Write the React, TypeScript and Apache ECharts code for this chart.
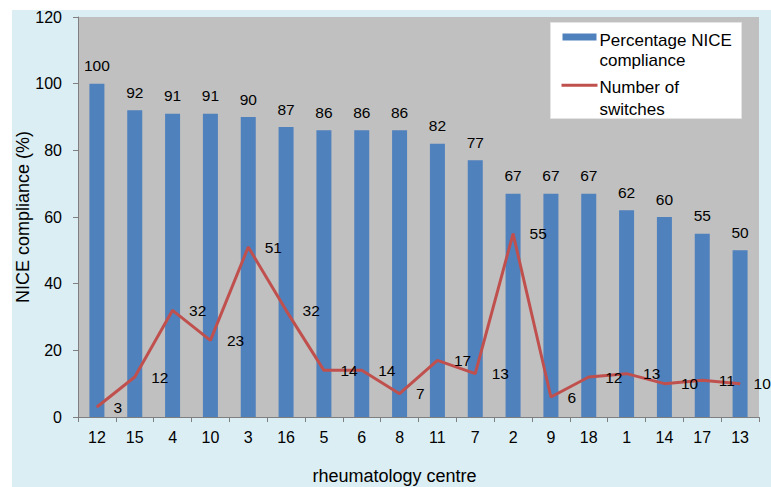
import React, { useEffect, useRef } from "react";
import * as echarts from "echarts";

// Rheumatology centres, ordered by NICE compliance
const centres = ["12", "15", "4", "10", "3", "16", "5", "6", "8", "11", "7", "2", "9", "18", "1", "14", "17", "13"];
// Percentage NICE compliance per centre
const compliance = [100, 92, 91, 91, 90, 87, 86, 86, 86, 82, 77, 67, 67, 67, 62, 60, 55, 50];
// Number of switches per centre
const switches = [3, 12, 32, 23, 51, 32, 14, 14, 7, 17, 13, 55, 6, 12, 13, 10, 11, 10];

const barName = "Percentage NICE compliance";
const lineName = "Number of switches";

const FONT = "'Liberation Sans', Arial, sans-serif";
const BLUE = "#4f81bd";
const RED = "#c0504d";

const legendText = (text: string, y: number) => ({
  type: "text",
  x: 49,
  y,
  style: { text, fontSize: 17, fontFamily: FONT, fill: "#000", verticalAlign: "middle" },
});

export default function App() {
  const ref = useRef<HTMLDivElement>(null);

  useEffect(() => {
    if (!ref.current) return;
    const chart = echarts.init(ref.current, undefined, { renderer: "svg" });
    const lastIdx = switches.length - 1;
    chart.setOption({
      animation: false,
      textStyle: { fontFamily: FONT, color: "#000" },
      grid: {
        left: 66,
        top: 7,
        right: 12,
        bottom: 70,
        containLabel: false,
        outerBoundsMode: "none",
        show: true,
        backgroundColor: "#c0c0c0",
        borderWidth: 0,
      },
      xAxis: {
        type: "category",
        data: centres,
        name: "rheumatology centre",
        nameLocation: "middle",
        nameGap: 50,
        nameMoveOverlap: false,
        nameTextStyle: { fontSize: 18, color: "#000", fontFamily: FONT, padding: [0, 48, 0, 0] },
        axisLine: { lineStyle: { color: "#7f7f7f", width: 1 } },
        axisTick: { show: true, alignWithLabel: false, length: 5, lineStyle: { color: "#7f7f7f" } },
        axisLabel: { fontSize: 16, color: "#000", margin: 12, fontFamily: FONT, interval: 0 },
        splitLine: { show: false },
      },
      yAxis: {
        type: "value",
        min: 0,
        max: 120,
        interval: 20,
        name: "NICE compliance (%)",
        nameLocation: "middle",
        nameGap: 46,
        nameMoveOverlap: false,
        nameTextStyle: { fontSize: 18, color: "#000", fontFamily: FONT },
        axisLine: { show: true, lineStyle: { color: "#7f7f7f", width: 1 } },
        axisTick: { show: true, length: 5, lineStyle: { color: "#7f7f7f" } },
        axisLabel: { fontSize: 16, color: "#000", margin: 16, fontFamily: FONT },
        splitLine: { show: false },
      },
      series: [
        {
          name: barName,
          type: "bar",
          data: compliance,
          barWidth: 15,
          itemStyle: { color: BLUE },
          label: {
            show: true,
            position: "top",
            distance: 10,
            fontSize: 15.5,
            color: "#000",
            fontFamily: FONT,
          },
        },
        {
          name: lineName,
          type: "line",
          data: switches.map((v, i) =>
            i === lastIdx ? { value: v, label: { offset: [-3, 0] } } : v
          ),
          symbol: "circle",
          symbolSize: 1,
          itemStyle: { color: RED },
          lineStyle: { color: RED, width: 3 },
          label: {
            show: true,
            position: "right",
            distance: 16,
            fontSize: 15.5,
            color: "#000",
            fontFamily: FONT,
          },
          z: 3,
        },
      ],
      graphic: [
        {
          type: "group",
          left: 538,
          top: 12,
          children: [
            {
              type: "rect",
              shape: { x: 0, y: 0, width: 191, height: 96 },
              style: { fill: "#ffffff", stroke: "#e4e4e4", lineWidth: 1 },
            },
            {
              type: "rect",
              shape: { x: 12, y: 11, width: 34, height: 7 },
              style: { fill: BLUE },
            },
            {
              type: "line",
              shape: { x1: 11, y1: 62.7, x2: 47, y2: 62.7 },
              style: { stroke: RED, lineWidth: 3 },
            },
            legendText("Percentage NICE", 18.4),
            legendText("compliance", 38.4),
            legendText("Number of", 65.1),
            legendText("switches", 86.8),
          ],
        },
      ],
    });
    return () => chart.dispose();
  }, []);

  return (
    <div
      ref={ref}
      style={{
        position: "absolute",
        left: 12,
        top: 10,
        width: 759,
        height: 477,
        background: "#dbeef4",
      }}
    />
  );
}
